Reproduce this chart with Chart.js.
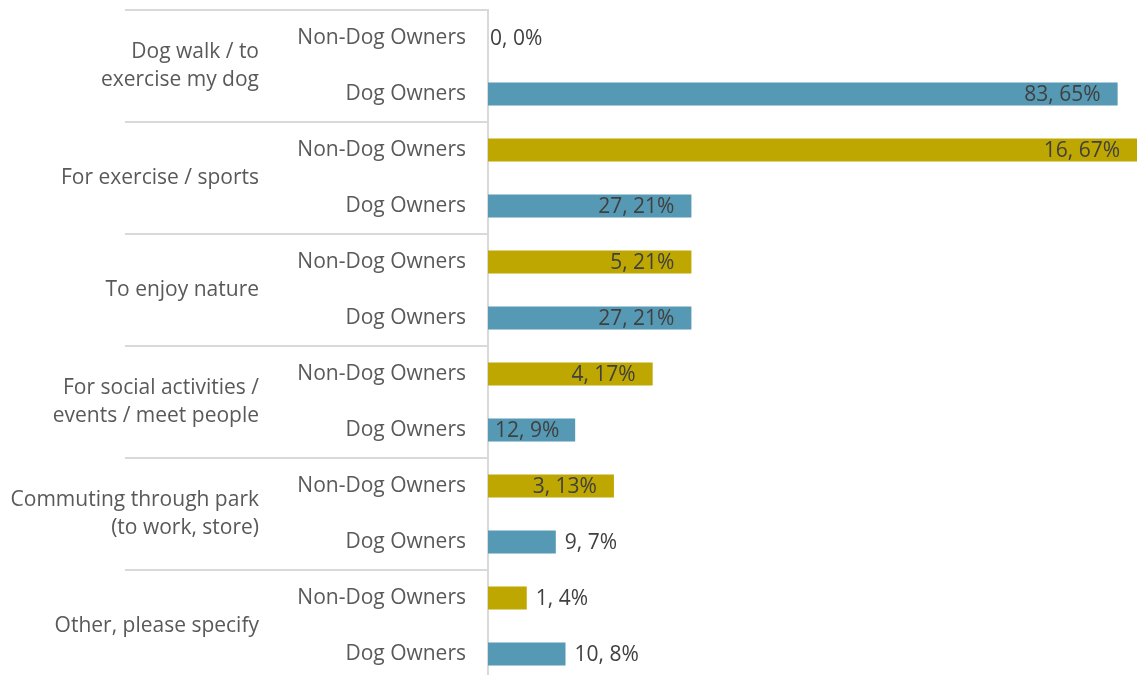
<!DOCTYPE html>
<html>
<head>
<meta charset="utf-8">
<script src="https://cdn.jsdelivr.net/npm/chart.js@4.4.1/dist/chart.umd.min.js"></script>
<style>
  html, body { margin: 0; padding: 0; background: #fff; overflow: hidden; }
  #wrap { width: 1137px; height: 690px; }
</style>
</head>
<body>
<div id="wrap"><canvas id="chart"></canvas></div>
<script>
"use strict";

// reasons for visiting, split by owner type
const groups = [
  ["Dog walk / to", "exercise my dog"],
  "For exercise / sports",
  "To enjoy nature",
  ["For social activities /", "events / meet people"],
  ["Commuting through park", "(to work, store)"],
  "Other, please specify"
];
const owners = ["Non-Dog Owners", "Dog Owners"];

const nonDogCounts = [0, 16, 5, 4, 3, 1];
const nonDogPct    = [0, 67, 21, 17, 13, 4];
const dogCounts    = [83, 27, 27, 12, 9, 10];
const dogPct       = [65, 21, 21, 9, 7, 8];

const FONT = '"Open Sans", "Noto Sans", sans-serif';
const FONT_SIZE = 21;

// one row per owner type inside every group
const rows = groups.flatMap(() => owners);
const spread = (arr, slot) => arr.flatMap(v => slot === 0 ? [v, null] : [null, v]);

// "count, pct%" labels, inside the bar end when they fit, else just after it
const barLabels = {
  id: 'barLabels',
  afterDatasetsDraw(chart) {
    const ctx = chart.ctx;
    ctx.save();
    ctx.font = FONT_SIZE + 'px ' + FONT;
    ctx.fillStyle = '#404040';
    ctx.textBaseline = 'middle';
    ctx.textAlign = 'left';
    chart.data.datasets.forEach((ds, i) => {
      chart.getDatasetMeta(i).data.forEach((bar, j) => {
        if (ds.data[j] === null) return;
        const { x, base, y } = bar.getProps(['x', 'base', 'y'], true);
        const text = ds.counts[j] + ', ' + ds.data[j] + '%';
        const w = ctx.measureText(text).width;
        const len = x - base;
        let tx;
        if (len >= w + 20) tx = Math.max(x - 17 - w, base + 7);
        else tx = x + (len > 0 ? 9 : 2);
        ctx.fillText(text, tx, y + 1);
      });
    });
    ctx.restore();
  }
};

// light rules between the groups on the category side
const groupLines = {
  id: 'groupLines',
  afterDraw(chart) {
    const y = chart.scales.y;
    const ctx = chart.ctx;
    ctx.save();
    ctx.strokeStyle = '#d9d9d9';
    ctx.lineWidth = 2;
    for (let g = 0; g <= groups.length; g++) {
      const py = Math.round(y.getPixelForValue(g * owners.length - 0.5));
      ctx.beginPath();
      ctx.moveTo(125, py);
      ctx.lineTo(y.right, py);
      ctx.stroke();
    }
    ctx.restore();
  }
};

// fixed axis widths, and no extra room above/below for the labels
const fitAxis = width => scale => {
  scale.width = width;
  scale.paddingTop = 0;
  scale.paddingBottom = 0;
};

new Chart(document.getElementById('chart'), {
  type: 'bar',
  data: {
    labels: rows,
    datasets: [
      {
        label: owners[0],
        data: spread(nonDogPct, 0),
        counts: spread(nonDogCounts, 0),
        backgroundColor: '#bea700'
      },
      {
        label: owners[1],
        data: spread(dogPct, 1),
        counts: spread(dogCounts, 1),
        backgroundColor: '#5699b4'
      }
    ]
  },
  options: {
    indexAxis: 'y',
    responsive: true,
    maintainAspectRatio: false,
    animation: false,
    layout: { padding: { top: 10, bottom: 8, left: 0, right: 0 } },
    datasets: {
      bar: { grouped: false, categoryPercentage: 1, barPercentage: 0.41 }
    },
    plugins: {
      legend: { display: false },
      tooltip: { enabled: false }
    },
    scales: {
      x: {
        display: false,
        min: 0,
        max: 67
      },
      y: {
        weight: 0,
        grid: { display: false, drawTicks: false },
        border: { display: true, color: '#d9d9d9', width: 2 },
        ticks: {
          padding: 22,
          color: '#595959',
          font: { family: FONT, size: FONT_SIZE }
        },
        afterFit: fitAxis(218)
      },
      y2: {
        type: 'category',
        position: 'left',
        weight: 1,
        labels: groups,
        offset: true,
        grid: { display: false, drawTicks: false },
        border: { display: false },
        ticks: {
          padding: 11,
          color: '#595959',
          font: { family: FONT, size: FONT_SIZE, lineHeight: 1.33 }
        },
        afterFit: fitAxis(270)
      }
    }
  },
  plugins: [barLabels, groupLines]
});
</script>
</body>
</html>
